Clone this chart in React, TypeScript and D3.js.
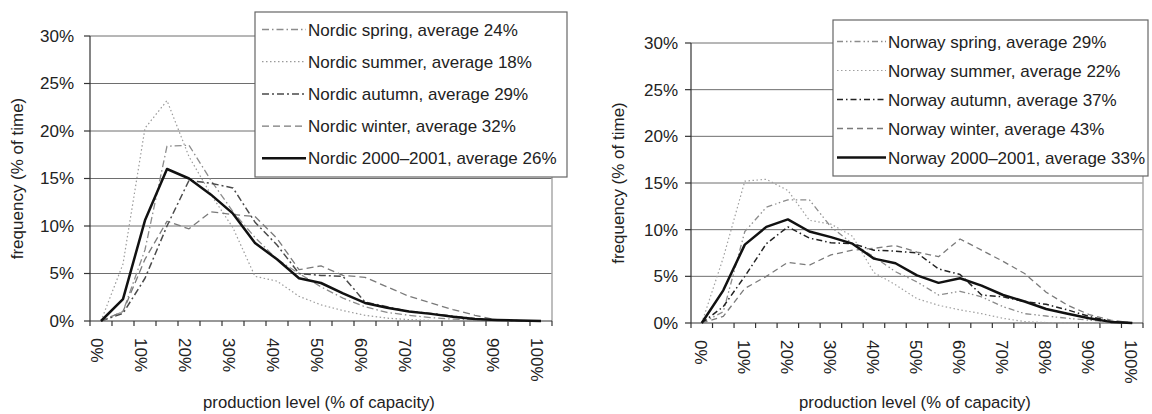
import React from 'react';
import * as d3 from 'd3';

// Production level categories (% of capacity), one per 5% step
const categories = [0, 5, 10, 15, 20, 25, 30, 35, 40, 45, 50, 55, 60, 65, 70, 75, 80, 85, 90, 95, 100];
const labelledCategories = [0, 10, 20, 30, 40, 50, 60, 70, 80, 90, 100];
const yTicks = [0, 5, 10, 15, 20, 25, 30];

// Frequency (% of time) per production level – Nordic
const nordicSpring = [0, 1.0, 7.5, 18.4, 18.5, 14.8, 11.5, 8.8, 6.5, 5.0, 3.6, 2.4, 1.5, 0.9, 0.6, 0.35, 0.2, 0.1, 0.05, 0.02, 0];
const nordicSummer = [0, 6.0, 20.3, 23.2, 17.3, 13.3, 9.8, 4.7, 4.2, 2.6, 1.7, 1.1, 0.6, 0.3, 0.15, 0.05, 0.02, 0, 0, 0, 0];
const nordicAutumn = [0, 0.8, 4.5, 10.0, 14.8, 14.5, 14.0, 10.4, 8.0, 5.0, 4.8, 4.7, 2.0, 1.5, 1.0, 0.8, 0.5, 0.25, 0.1, 0.03, 0];
const nordicWinter = [0, 1.0, 6.5, 10.5, 9.7, 11.5, 11.2, 11.0, 8.7, 5.4, 5.8, 4.8, 4.6, 3.6, 2.6, 1.9, 1.2, 0.6, 0.1, 0.03, 0];
const nordicTotal = [0, 2.3, 10.6, 16.0, 15.0, 13.3, 11.3, 8.2, 6.5, 4.5, 4.0, 2.9, 1.9, 1.4, 1.0, 0.75, 0.45, 0.2, 0.1, 0.05, 0];

// Frequency (% of time) per production level – Norway
const norwaySpring = [0, 1.2, 9.8, 12.4, 13.2, 13.2, 10.3, 8.5, 7.1, 5.5, 4.4, 3.0, 3.4, 2.8, 1.75, 1.0, 0.75, 0.5, 0.3, 0.1, 0];
const norwaySummer = [0, 7.0, 15.2, 15.4, 14.2, 11.0, 10.6, 9.3, 5.4, 4.1, 2.6, 1.9, 1.4, 1.0, 0.5, 0.15, 0.05, 0, 0, 0, 0];
const norwayAutumn = [0, 1.75, 5.0, 8.5, 10.3, 9.1, 8.6, 8.5, 7.8, 7.7, 7.5, 5.8, 5.2, 3.0, 2.8, 2.3, 2.0, 1.4, 0.7, 0.2, 0];
const norwayWinter = [0, 0.7, 3.7, 5.0, 6.5, 6.2, 7.3, 7.8, 8.0, 8.3, 7.6, 7.1, 9.0, 7.8, 6.6, 5.3, 3.3, 1.9, 0.9, 0.3, 0];
const norwayTotal = [0, 3.5, 8.4, 10.3, 11.1, 9.8, 9.2, 8.5, 6.9, 6.4, 5.1, 4.3, 4.8, 4.0, 3.0, 2.3, 1.5, 1.0, 0.5, 0.12, 0];

type Series = { name: string; values: number[]; color: string; width: number; dash?: string };

const nordicSeries: Series[] = [
  { name: 'Nordic spring, average 24%', values: nordicSpring, color: '#8c8c8c', width: 1.3, dash: '7 3 1.5 3' },
  { name: 'Nordic summer, average 18%', values: nordicSummer, color: '#9a9a9a', width: 1.2, dash: '1.5 2.5' },
  { name: 'Nordic autumn, average 29%', values: nordicAutumn, color: '#4a4a4a', width: 1.5, dash: '7 3 2 3' },
  { name: 'Nordic winter, average 32%', values: nordicWinter, color: '#7a7a7a', width: 1.3, dash: '7 4' },
  { name: 'Nordic 2000–2001, average 26%', values: nordicTotal, color: '#111111', width: 2.5 },
];

const norwaySeries: Series[] = [
  { name: 'Norway spring, average 29%', values: norwaySpring, color: '#8c8c8c', width: 1.3, dash: '6 3 1.5 2.5 1.5 3' },
  { name: 'Norway summer, average 22%', values: norwaySummer, color: '#a0a0a0', width: 1.2, dash: '1.5 2.5' },
  { name: 'Norway autumn, average 37%', values: norwayAutumn, color: '#222222', width: 1.5, dash: '6 3 1.5 3' },
  { name: 'Norway winter, average 43%', values: norwayWinter, color: '#7a7a7a', width: 1.3, dash: '6 4' },
  { name: 'Norway 2000–2001, average 33%', values: norwayTotal, color: '#111111', width: 2.5 },
];

type PanelCfg = {
  left: number; right: number; top: number; bottom: number;
  labelDx: number; yLabelGap: number;
  legend: { x: number; y: number; w: number; h: number; row0: number; step: number; sx0: number; sx1: number; tx: number };
  series: Series[];
};

const FONT = "'Liberation Sans', Arial, Helvetica, sans-serif";
const TEXT = '#222';

function Panel({ cfg }: { cfg: PanelCfg }) {
  const x = d3.scaleBand<number>().domain(categories).range([cfg.left, cfg.right]).padding(0);
  const y = d3.scaleLinear().domain([0, 30]).range([cfg.bottom, cfg.top]);
  const bw = x.bandwidth();
  const cx = (c: number) => (x(c) as number) + bw / 2;
  const line = d3.line<number>().x((_, i) => cx(categories[i])).y((v) => y(v));
  const boundaries = d3.range(categories.length + 1).map((k) => cfg.left + k * bw);
  const lg = cfg.legend;
  const midY = (cfg.top + cfg.bottom) / 2;
  const midX = (cfg.left + cfg.right) / 2;

  return (
    <g>
      {/* horizontal gridlines */}
      {yTicks.filter((t) => t > 0).map((t) => (
        <line key={'g' + t} x1={cfg.left} x2={cfg.right} y1={y(t)} y2={y(t)} stroke="#6e6e6e" strokeWidth={1} />
      ))}
      {/* plot area right edge */}
      <line x1={cfg.right} x2={cfg.right} y1={cfg.top} y2={cfg.bottom} stroke="#a8a8a8" strokeWidth={1.5} />
      {/* value axis */}
      <line x1={cfg.left} x2={cfg.left} y1={cfg.top} y2={cfg.bottom} stroke="#333" strokeWidth={1.2} />
      {yTicks.map((t) => (
        <g key={'yt' + t}>
          <line x1={cfg.left - 6} x2={cfg.left} y1={y(t)} y2={y(t)} stroke="#333" strokeWidth={1.2} />
          <text x={cfg.left - cfg.yLabelGap} y={y(t)} dy="0.35em" textAnchor="end" fontSize={17} fill={TEXT} fontFamily={FONT}>
            {t}%
          </text>
        </g>
      ))}
      {/* category axis */}
      <line x1={cfg.left} x2={cfg.right} y1={cfg.bottom} y2={cfg.bottom} stroke="#333" strokeWidth={1.2} />
      {boundaries.map((bx, k) => (
        <line key={'xt' + k} x1={bx} x2={bx} y1={cfg.bottom} y2={cfg.bottom + 5} stroke="#333" strokeWidth={1.2} />
      ))}
      {labelledCategories.map((c) => (
        <text
          key={'xl' + c}
          transform={`translate(${cx(c) + cfg.labelDx},${cfg.bottom + 17}) rotate(90)`}
          dy="0.35em"
          textAnchor="start"
          fontSize={17}
          fill={TEXT}
          fontFamily={FONT}
        >
          {c}%
        </text>
      ))}
      {/* axis titles */}
      <text
        transform={`translate(${cfg.left - 67.5},${midY}) rotate(-90)`}
        textAnchor="middle"
        fontSize={17}
        fill={TEXT}
        fontFamily={FONT}
      >
        frequency (% of time)
      </text>
      <text x={midX - 2} y={408} textAnchor="middle" fontSize={16.7} fill={TEXT} fontFamily={FONT}>
        production level (% of capacity)
      </text>
      {/* series */}
      {cfg.series.map((s) => (
        <path
          key={s.name}
          d={line(s.values) || ''}
          fill="none"
          stroke={s.color}
          strokeWidth={s.width}
          strokeDasharray={s.dash}
          strokeLinejoin="round"
        />
      ))}
      {/* legend */}
      <rect x={lg.x} y={lg.y} width={lg.w} height={lg.h} fill="#fff" stroke="#666" strokeWidth={1.2} />
      {cfg.series.map((s, i) => {
        const ry = lg.row0 + i * lg.step;
        return (
          <g key={'lg' + s.name}>
            <line x1={lg.sx0} x2={lg.sx1} y1={ry} y2={ry} stroke={s.color} strokeWidth={s.width} strokeDasharray={s.dash} />
            <text x={lg.tx} y={ry} dy="0.36em" fontSize={17} fill={TEXT} fontFamily={FONT}>
              {s.name}
            </text>
          </g>
        );
      })}
    </g>
  );
}

const leftPanel: PanelCfg = {
  left: 90, right: 552, top: 36, bottom: 321, labelDx: -4, yLabelGap: 16,
  legend: { x: 255, y: 12, w: 312, h: 165, row0: 29.5, step: 32.2, sx0: 262, sx1: 306, tx: 308 },
  series: nordicSeries,
};

const rightPanel: PanelCfg = {
  left: 691, right: 1143, top: 43, bottom: 323, labelDx: -1, yLabelGap: 13,
  legend: { x: 833, y: 20, w: 315, h: 156, row0: 41.5, step: 29, sx0: 837, sx1: 886, tx: 888 },
  series: norwaySeries,
};

export default function App() {
  return (
    <svg
      width={1152}
      height={414}
      viewBox="0 0 1152 414"
      style={{ position: 'absolute', left: 0, top: 0, background: '#fff' }}
    >
      <rect width={1152} height={414} fill="#fff" />
      <Panel cfg={leftPanel} />
      <Panel cfg={rightPanel} />
    </svg>
  );
}
